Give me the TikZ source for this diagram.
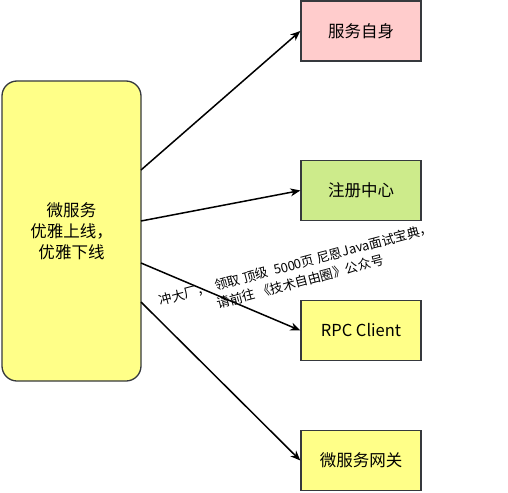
\documentclass[tikz,border=0pt]{standalone}
\usepackage{fontspec}
\setmainfont{Noto Sans CJK SC}
\usetikzlibrary{arrows.meta}

\definecolor{boxline}{HTML}{36393D}
\definecolor{pinkfill}{HTML}{FFCCCC}
\definecolor{greenfill}{HTML}{CDEB8B}
\definecolor{yellowfill}{HTML}{FFFF88}

\begin{document}
\begin{tikzpicture}[x=1pt,y=-1pt,->,>={Stealth[length=10pt,width=8pt,inset=3pt]},
                    line width=1.5pt,
                    box/.style={rectangle,draw=boxline,line width=1.3pt,minimum width=120pt,
                                minimum height=60pt,font=\fontsize{16.5}{21}\selectfont},
                    main box/.style={box,rounded corners=15pt,fill=yellowfill,
                                minimum width=139pt,minimum height=300pt,align=center}]
  \useasboundingbox (0,0) rectangle (508,492);

  \node[main box] (svc) at (71.5,231) {微服务\\优雅上线，\\优雅下线};
  \node[box,fill=pinkfill]   (self) at (361,31)    {服务自身};
  \node[box,fill=greenfill]  (reg)  at (361,190.5) {注册中心};
  \node[box,fill=yellowfill] (rpc)  at (361,330.5) {RPC Client};
  \node[box,fill=yellowfill] (gw)   at (361,460.5) {微服务网关};

  \coordinate (o1) at (141,170);
  \coordinate (o2) at (141,221);
  \coordinate (o3) at (141,263);
  \coordinate (o4) at (141,302);

  \path
    (o1) edge (self.west)
    (o2) edge (reg.west)
    (o3) edge (rpc.west)
    (o4) edge (gw.west);

  \node[rotate=15,align=center,font=\fontsize{13}{18}\selectfont] (note) at (298,273)
    {冲大厂，\ \ 领取 顶级\ \ 5000页 尼恩Java面试宝典，\\请前往 《技术自由圈》公众号};
\end{tikzpicture}
\end{document}
